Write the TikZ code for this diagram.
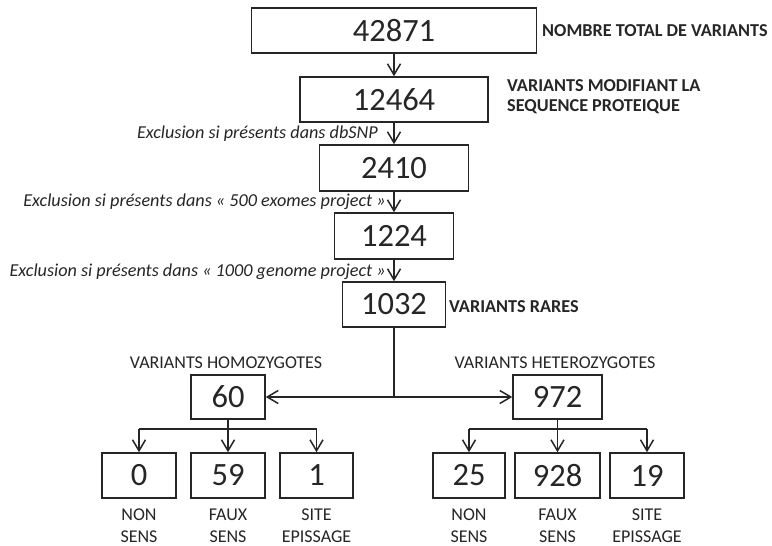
\documentclass[tikz,border=0pt]{standalone}
\usepackage{fontspec}
\setmainfont{Carlito}
\usetikzlibrary{arrows.meta}
\definecolor{ink}{RGB}{38,38,38}
\tikzset{
  numbox/.style={draw=ink, line width=1.5pt, rectangle, inner sep=0pt, minimum height=45pt,
    text=ink, font=\fontsize{32.5}{36}\selectfont},
  link/.style={draw=ink, line width=1.5pt},
  arr/.style={link, -{Straight Barb[length=11pt,width=13pt,line width=1.5pt]}},
  boldlbl/.style={text=ink, inner sep=0pt, font=\bfseries\fontsize{18.2}{20}\selectfont, align=left},
  itlbl/.style={text=ink, inner sep=0pt, font=\itshape\fontsize{18.2}{20}\selectfont},
  plainlbl/.style={text=ink, inner sep=0pt, font=\fontsize{18}{22}\selectfont, align=center}
}
\begin{document}
\begin{tikzpicture}[x=1pt,y=-1pt]
\useasboundingbox[fill=white] (0,0) rectangle (772,546);

% main column
\node[numbox, minimum width=285pt] (n42871) at (394,30.5) {42871};
\node[numbox, minimum width=188pt] (n12464) at (394,99.5) {12464};
\node[numbox, minimum width=149pt, minimum height=46pt] (n2410) at (394,168) {2410};
\node[numbox, minimum width=119pt, minimum height=46pt] (n1224) at (394,236) {1224};
\node[numbox, minimum width=103pt] (n1032) at (394,304.5) {1032};

% second level
\node[numbox, minimum width=74pt, minimum height=44pt] (n60) at (228,397) {60};
\node[numbox, minimum width=89pt, minimum height=44pt] (n972) at (557.5,397) {972};

% leaves
\node[numbox, minimum width=74pt] (n0) at (139,475.5) {0};
\node[numbox, minimum width=74pt] (n59) at (228,475.5) {59};
\node[numbox, minimum width=73pt] (n1) at (316.5,475.5) {1};
\node[numbox, minimum width=72pt] (n25) at (469,475.5) {25};
\node[numbox, minimum width=85pt] (n928) at (557.5,475.5) {928};
\node[numbox, minimum width=74pt] (n19) at (647,475.5) {19};

% side labels
\node[boldlbl, anchor=west] (lTotal) at (542,31) {NOMBRE TOTAL DE VARIANTS};
\node[boldlbl, anchor=west] (lMod) at (507,97) {VARIANTS MODIFIANT LA\\SEQUENCE PROTEIQUE};
\node[boldlbl, anchor=west] (lRares) at (449,307) {VARIANTS RARES};

\node[itlbl, anchor=east] (lSnp) at (378,134) {Exclusion si présents dans dbSNP};
\node[itlbl, anchor=east] (lExo) at (386,202) {Exclusion si présents dans « 500 exomes project »};
\node[itlbl, anchor=east] (lGen) at (386,272) {Exclusion si présents dans « 1000 genome project »};

\node[plainlbl] (lHomo) at (226,363) {VARIANTS HOMOZYGOTES};
\node[plainlbl] (lHete) at (555,363) {VARIANTS HETEROZYGOTES};

\node[plainlbl] (t0) at (139,526) {NON\\SENS};
\node[plainlbl] (t59) at (228,526) {FAUX\\SENS};
\node[plainlbl] (t1) at (316.5,526) {SITE\\EPISSAGE};
\node[plainlbl] (t25) at (469,526) {NON\\SENS};
\node[plainlbl] (t928) at (557.5,526) {FAUX\\SENS};
\node[plainlbl] (t19) at (647,526) {SITE\\EPISSAGE};

% main arrows
\draw[arr] (n42871) -- (n12464);
\draw[arr] (n12464) -- (n2410);
\draw[arr] (n2410) -- (n1224);
\draw[arr] (n1224) -- (n1032);

% split
\coordinate (J) at (394,397);
\draw[link] (n1032.south) -- (J);
\draw[arr] (J) -- (n60.east);
\draw[arr] (J) -- (n972.west);

% left branch
\coordinate (bL) at (228,429);
\coordinate (bL0) at (139,429);
\coordinate (bL1) at (316.5,429);
\draw[link] (n60.south) -- (bL);
\draw[link] (bL0) -- (bL1);
\draw[arr] (bL0) -- (n0.north);
\draw[arr] (bL) -- (n59.north);
\draw[arr] (bL1) -- (n1.north);

% right branch
\coordinate (bR) at (557.5,429);
\coordinate (bR0) at (469,429);
\coordinate (bR1) at (647,429);
\draw[link] (n972.south) -- (bR);
\draw[link] (bR0) -- (bR1);
\draw[arr] (bR0) -- (n25.north);
\draw[arr] (bR) -- (n928.north);
\draw[arr] (bR1) -- (n19.north);
\end{tikzpicture}
\end{document}
